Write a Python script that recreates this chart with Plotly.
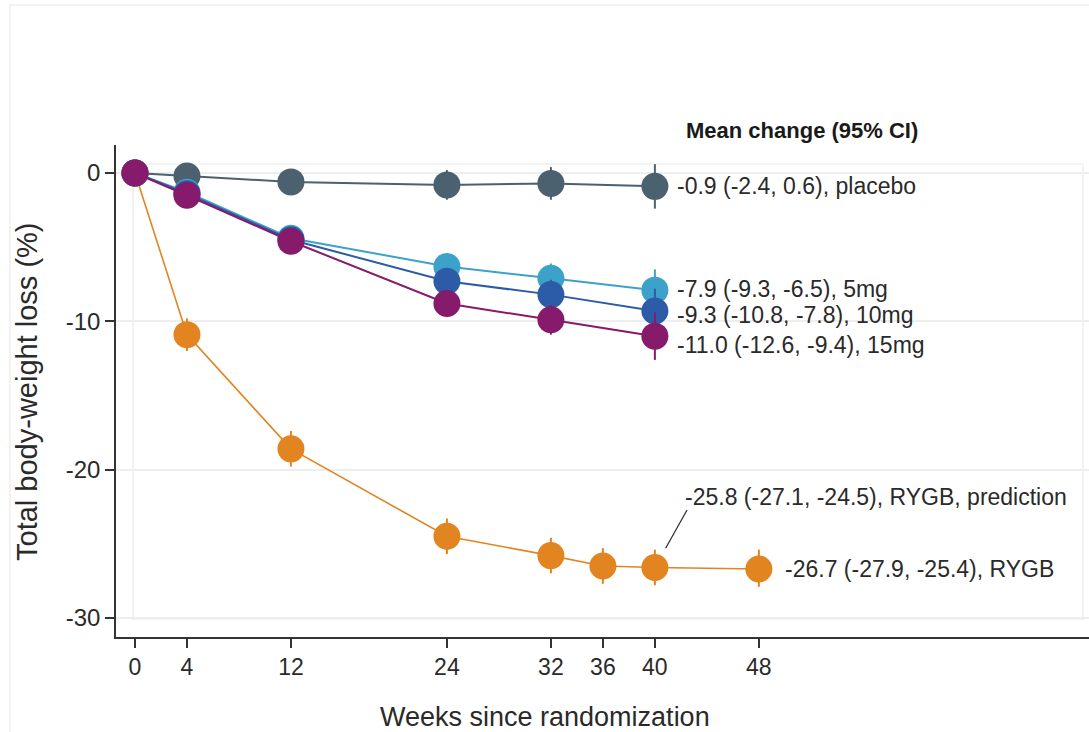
import plotly.graph_objects as go

# ---------------- data ----------------
weeks_drug = [0, 4, 12, 24, 32, 40]
placebo = [0, -0.2, -0.6, -0.8, -0.7, -0.9]
placebo_lo = [0, -0.6, -1.3, -1.8, -1.8, -2.4]
placebo_hi = [0, 0.2, 0.1, 0.2, 0.4, 0.6]

mg5 = [0, -1.3, -4.4, -6.3, -7.1, -7.9]
mg5_lo = [0, -1.7, -5.0, -7.2, -8.1, -9.3]
mg5_hi = [0, -0.9, -3.8, -5.4, -6.1, -6.5]

mg10 = [0, -1.4, -4.5, -7.3, -8.2, -9.3]
mg10_lo = [0, -1.8, -5.1, -8.2, -9.2, -10.8]
mg10_hi = [0, -1.0, -3.9, -6.4, -7.2, -7.8]

mg15 = [0, -1.5, -4.6, -8.8, -9.9, -11.0]
mg15_lo = [0, -1.9, -5.2, -9.7, -10.9, -12.6]
mg15_hi = [0, -1.1, -4.0, -7.9, -8.9, -9.4]

weeks_rygb = [0, 4, 12, 24, 32, 36, 40, 48]
rygb = [0, -10.9, -18.6, -24.5, -25.8, -26.5, -26.6, -26.7]
rygb_lo = [0, -12.0, -19.8, -25.7, -27.0, -27.7, -27.8, -27.9]
rygb_hi = [0, -9.8, -17.4, -23.3, -24.6, -25.3, -25.4, -25.4]

x_ticks = [0, 4, 12, 24, 32, 36, 40, 48]
y_ticks = [0, -10, -20, -30]

labels = {
    "placebo": "-0.9 (-2.4, 0.6), placebo",
    "5mg": "-7.9 (-9.3, -6.5), 5mg",
    "10mg": "-9.3 (-10.8, -7.8), 10mg",
    "15mg": "-11.0 (-12.6, -9.4), 15mg",
    "rygb": "-26.7 (-27.9, -25.4), RYGB",
    "pred": "-25.8 (-27.1, -24.5), RYGB, prediction",
}
header = "Mean change (95% CI)"

# ---------------- style ----------------
FONT = "Liberation Sans, Arial, Helvetica, sans-serif"
C_PLA = "#4b6170"
C_5 = "#3da2c9"
C_10 = "#2c5ca8"
C_15 = "#861a6b"
C_RY = "#e2841f"
TXT = "#2a2a2a"

fig = go.Figure()


def add_series(x, y, lo, hi, color, lw=2):
    fig.add_trace(go.Scatter(
        x=x, y=y, mode="lines+markers",
        line=dict(color=color, width=lw),
        marker=dict(color=color, size=27, line=dict(width=0)),
        error_y=dict(type="data", symmetric=False,
                     array=[h - v for h, v in zip(hi, y)],
                     arrayminus=[v - l for v, l in zip(y, lo)],
                     color=color, thickness=2, width=0),
        showlegend=False, cliponaxis=False,
    ))


add_series(weeks_rygb, rygb, rygb_lo, rygb_hi, C_RY, lw=1.6)
add_series(weeks_drug, placebo, placebo_lo, placebo_hi, C_PLA)
add_series(weeks_drug, mg5, mg5_lo, mg5_hi, C_5)
add_series(weeks_drug, mg10, mg10_lo, mg10_hi, C_10)
add_series(weeks_drug, mg15, mg15_lo, mg15_hi, C_15)

ann_font = dict(family=FONT, size=23, color=TXT)
last = weeks_drug[-1]
for key, series, ys in [("placebo", placebo, 0), ("5mg", mg5, 1),
                        ("10mg", mg10, -4), ("15mg", mg15, -9)]:
    fig.add_annotation(x=last, y=series[-1], text=labels[key], showarrow=False,
                       xanchor="left", yanchor="middle", xshift=20, yshift=ys,
                       font=ann_font)

fig.add_annotation(x=weeks_rygb[-1], y=rygb[-1], text=labels["rygb"], showarrow=False,
                   xanchor="left", yanchor="middle", xshift=24, font=ann_font)

# prediction pointer at week 40
i40 = weeks_rygb.index(40)
fig.add_annotation(x=40, y=rygb[i40], text="", showarrow=True, arrowhead=0,
                   arrowwidth=1.3, arrowcolor="#333333", ax=33, ay=-59,
                   standoff=22)
fig.add_annotation(x=40, y=rygb[i40], text=labels["pred"], showarrow=False,
                   xanchor="left", yanchor="middle", xshift=28, yshift=70,
                   font=ann_font)

fig.add_annotation(xref="paper", yref="paper", x=0.5838, y=1.0285,
                   text="<b>" + header + "</b>", showarrow=False,
                   xanchor="left", yanchor="middle",
                   font=dict(family=FONT, size=22, color="#1a1a1a"))

fig.add_annotation(xref="paper", yref="paper", x=-0.0915, y=0.498,
                   text="Total body-weight loss (%)", showarrow=False, textangle=-90,
                   xanchor="center", yanchor="middle",
                   font=dict(family=FONT, size=29, color=TXT))
fig.add_annotation(xref="paper", yref="paper", x=0.4409, y=-0.1626,
                   text="Weeks since randomization", showarrow=False,
                   xanchor="center", yanchor="middle",
                   font=dict(family=FONT, size=27, color=TXT))

# faint frames
fig.add_shape(type="rect", xref="paper", yref="paper", x0=-0.109, x1=1.02,
              y0=-0.3, y1=1.2846, line=dict(color="#eeeeee", width=1.5), layer="below")
fig.add_shape(type="rect", xref="paper", yref="paper", x0=0.0175, x1=0.9938,
              y0=0.0366, y1=0.9614, line=dict(color="#efefef", width=1.5), layer="below")

fig.update_layout(
    width=1089, height=732,
    margin=dict(l=116, r=0, t=145, b=95),
    paper_bgcolor="white", plot_bgcolor="white",
    font=dict(family=FONT, color=TXT),
    xaxis=dict(range=[-1.46, 73.4], tickvals=x_ticks, ticktext=[str(v) for v in x_ticks],
               showgrid=False, zeroline=False, showline=True, linecolor="#333333",
               linewidth=1.5, ticks="outside", ticklen=9, tickwidth=1.5,
               tickcolor="#333333", tickfont=dict(family=FONT, size=23, color=TXT)),
    yaxis=dict(range=[-31.29, 1.89], tickvals=y_ticks, ticktext=[str(v) for v in y_ticks],
               showgrid=True, gridcolor="#eeeeee", gridwidth=1.5, zeroline=False,
               showline=True, linecolor="#333333", linewidth=1.5, ticks="outside",
               ticklen=9, tickwidth=1.5, tickcolor="#333333",
               tickfont=dict(family=FONT, size=24, color=TXT)),
)

fig.write_html("out.html")
